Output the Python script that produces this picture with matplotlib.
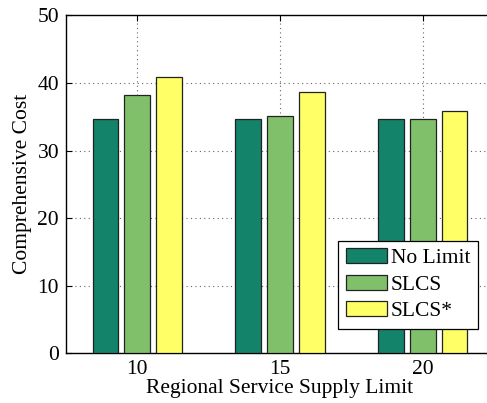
import numpy as np
import matplotlib
matplotlib.use("Agg")
import matplotlib.pyplot as plt

plt.rcParams['font.family'] = ['Liberation Serif', 'DejaVu Serif']
plt.rcParams['mathtext.fontset'] = 'stix'

# Data
limits = [10, 15, 20]
series_names = ["No Limit", "SLCS", "SLCS*"]
no_limit = [34.7, 34.7, 34.7]
slcs = [38.2, 35.1, 34.7]
slcs_star = [40.9, 38.6, 35.9]
y_ticks = [0, 10, 20, 30, 40, 50]

colors = ["#13836A", "#80C06B", "#FFFF66"]

fig = plt.figure(figsize=(4.87, 4.03), dpi=100)
ax = fig.add_axes([0.1355, 0.1233, 0.8790, 0.8387])

x = np.array(limits, dtype=float)
offset = 1.116
width = 0.9
for i, (vals, name, col) in enumerate(zip([no_limit, slcs, slcs_star], series_names, colors)):
    ax.bar(x + (i - 1) * offset, vals, width=width, color=col,
           edgecolor="#222222", linewidth=0.9, label=name, zorder=3)

ax.set_xlim(7.5, 22.5)
ax.set_ylim(0, 50)
ax.set_xticks(limits)
ax.set_yticks(y_ticks)
ax.tick_params(direction="in", length=4, width=0.8, labelsize=15.5,
               top=True, right=True, pad=5)
ax.grid(True, linestyle=(0, (1, 3)), color="#666666", linewidth=0.8, zorder=0)
for s in ax.spines.values():
    s.set_linewidth(1.0)
    s.set_color("black")

ax.set_xlabel("Regional Service Supply Limit", fontsize=15.5, labelpad=0)
ax.set_ylabel("Comprehensive Cost", fontsize=15.5, labelpad=4)

leg = ax.legend(loc="lower right", bbox_to_anchor=(0.9626, 0.072), fontsize=15.5,
                fancybox=False, framealpha=1, edgecolor="black",
                handlelength=1.9, handleheight=0.7, handletextpad=0.2,
                borderpad=0.35, labelspacing=0.3, borderaxespad=0)
leg.get_frame().set_linewidth(0.9)

fig.savefig("out.png", dpi=100)
